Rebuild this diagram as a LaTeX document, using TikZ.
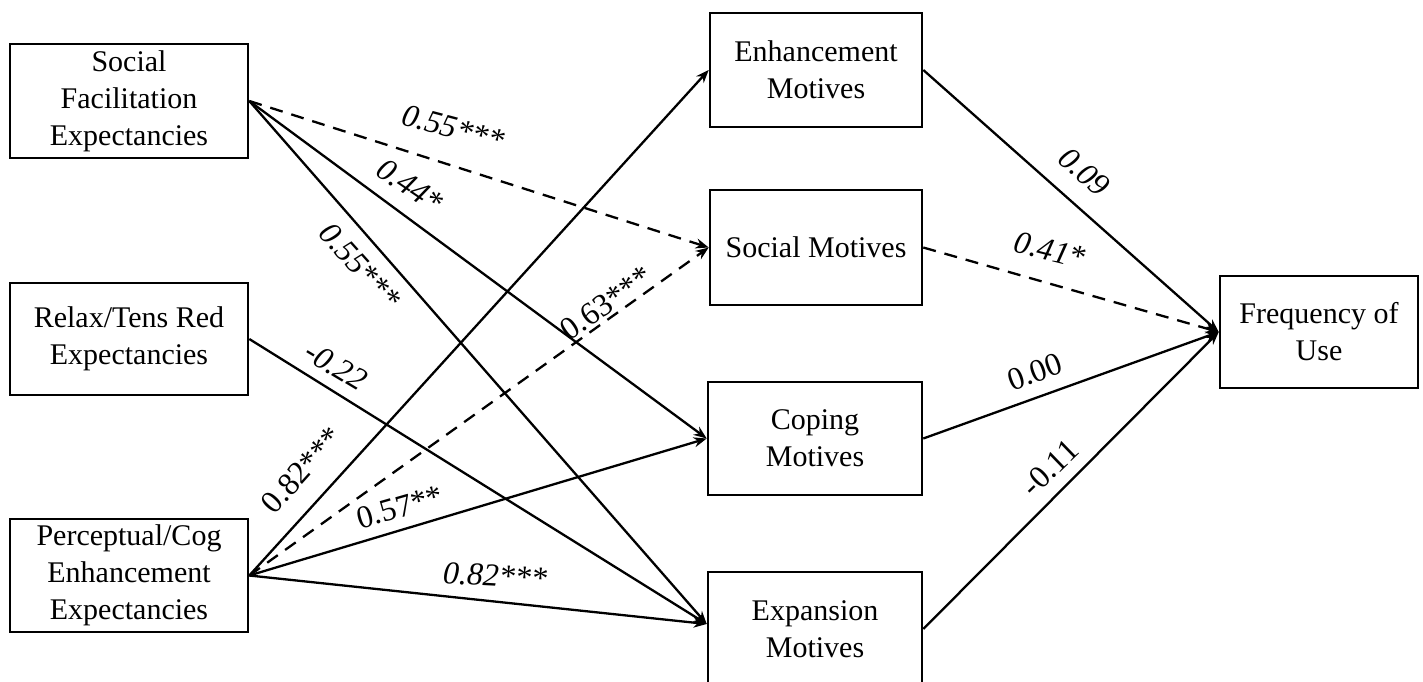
\documentclass[tikz,border=0pt]{standalone}
\usepackage{fontspec}
\setmainfont{Liberation Serif}
\usetikzlibrary{arrows.meta,calc}
\begin{document}
\begin{tikzpicture}[x=1pt,y=1pt,
  box/.style={draw,line width=2.6pt,inner sep=0pt,align=center,
    font=\fontsize{30}{37}\selectfont},
  conn/.style={line width=2.3pt,-{Stealth[length=13pt,width=10pt]}},
  dsh/.style={conn,dash pattern=on 13pt off 9pt},
  lab/.style={inner sep=0pt,font=\fontsize{32}{32}\selectfont},
  ilab/.style={lab,font=\fontsize{32}{32}\selectfont\itshape}]
\useasboundingbox (0,0) rectangle (1423,-682);
\clip (0,0) rectangle (1423,-682);
\fill[white] (0,0) rectangle (1423,-682);
% left column
\node[box,minimum width=238pt,minimum height=114pt] (SF) at (129,-101) {Social\\Facilitation\\Expectancies};
\node[box,minimum width=238pt,minimum height=112pt] (RT) at (129,-339) {Relax/Tens Red\\Expectancies};
\node[box,minimum width=238pt,minimum height=113pt] (PC) at (129,-575.5) {Perceptual/Cog\\Enhancement\\Expectancies};
% middle column
\node[box,minimum width=212pt,minimum height=114pt] (EN) at (816,-70) {Enhancement\\Motives};
\node[box,minimum width=212pt,minimum height=115pt] (SO) at (816,-247.5) {Social Motives};
\node[box,minimum width=214pt,minimum height=113pt] (CO) at (815,-438.5) {Coping\\Motives};
\node[box,minimum width=214pt,minimum height=114pt] (EX) at (815,-629) {Expansion\\Motives};
% right
\node[box,minimum width=198pt,minimum height=112pt] (FU) at (1319,-332) {Frequency of\\Use};
% connectors
\coordinate (EXin) at ($(EX.west)+(0,5)$);
\draw[dsh] (SF.east) -- (SO.west);
\draw[conn] (SF.east) -- (CO.west);
\draw[conn] (SF.east) -- (EXin);
\draw[conn] (RT.east) -- (EXin);
\draw[conn] (PC.east) -- (EN.west);
\draw[dsh] (PC.east) -- (SO.west);
\draw[conn] (PC.east) -- (CO.west);
\draw[conn] (PC.east) -- (EXin);
\draw[conn] (EN.east) -- (FU.west);
\draw[dsh] (SO.east) -- (FU.west);
\draw[conn] (CO.east) -- (FU.west);
\draw[conn] (EX.east) -- (FU.west);
% labels
\node[ilab,rotate=-15] (l1) at (453,-128) {0.55***};
\node[ilab,rotate=-34] (l2) at (410,-186) {0.44*};
\node[ilab,rotate=-48] (l3) at (360,-266) {0.55***};
\node[ilab,rotate=-31] (l4) at (336,-366) {-0.22};
\node[lab,rotate=48] (l5) at (302,-470) {0.82***};
\node[lab,rotate=35] (l6) at (606,-303) {0.63***};
\node[lab,rotate=16] (l7) at (400,-507) {0.57**};
\node[ilab,rotate=-3] (l8) at (495,-576) {0.82***};
\node[ilab,rotate=-41] (l9) at (1084,-172) {0.09};
\node[ilab,rotate=-14] (l10) at (1050,-250) {0.41*};
\node[lab,rotate=20] (l11) at (1035,-372) {0.00};
\node[lab,rotate=44] (l12) at (1050,-468) {-0.11};
\end{tikzpicture}
\end{document}
